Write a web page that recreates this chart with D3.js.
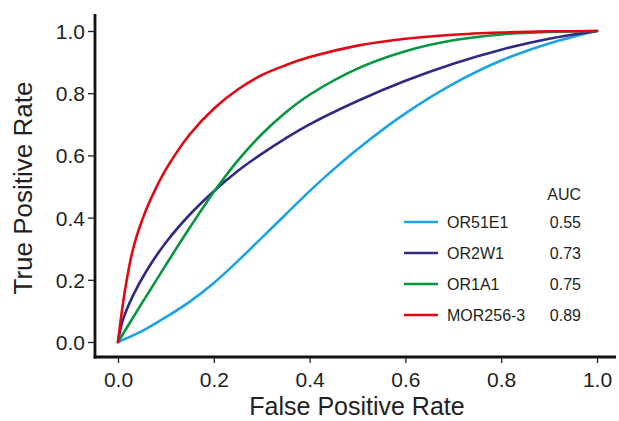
<!DOCTYPE html>
<html>
<head>
<meta charset="utf-8">
<script src="https://cdn.jsdelivr.net/npm/d3@7"></script>
<style>
  html, body { margin: 0; padding: 0; background: #fff; }
  svg { display: block; font-family: "Liberation Sans", Arial, Helvetica, sans-serif; }
</style>
</head>
<body>
<svg id="chart" width="619" height="421"></svg>
<script>
// ---- data ----
const seriesNames = ["OR51E1", "OR2W1", "OR1A1", "MOR256-3"];
const aucValues = ["0.55", "0.73", "0.75", "0.89"];
const seriesColors = ["#1ba3e3", "#2f2a83", "#05963f", "#e30613"];

const fprOR51E1 = [0, 0.05, 0.1, 0.15, 0.2, 0.25, 0.3, 0.35, 0.4, 0.45, 0.5, 0.6, 0.7, 0.8, 0.9, 1];
const tprOR51E1 = [0, 0.035, 0.08, 0.13, 0.19, 0.26, 0.335, 0.41, 0.485, 0.555, 0.62, 0.735, 0.83, 0.905, 0.96, 1];

const fprOR2W1 = [0, 0.01, 0.03, 0.06, 0.1, 0.15, 0.2, 0.25, 0.3, 0.35, 0.4, 0.5, 0.6, 0.7, 0.8, 0.9, 1];
const tprOR2W1 = [0, 0.07, 0.145, 0.23, 0.32, 0.41, 0.485, 0.55, 0.605, 0.655, 0.70, 0.775, 0.84, 0.895, 0.94, 0.975, 1];

const fprOR1A1 = [0, 0.05, 0.1, 0.15, 0.2, 0.25, 0.3, 0.35, 0.4, 0.5, 0.6, 0.7, 0.8, 0.9, 1];
const tprOR1A1 = [0, 0.125, 0.248, 0.368, 0.482, 0.583, 0.668, 0.738, 0.795, 0.879, 0.935, 0.97, 0.989, 0.997, 1];

const fprMOR = [0, 0.01, 0.02, 0.03, 0.04, 0.05, 0.06, 0.08, 0.1, 0.15, 0.2, 0.25, 0.3, 0.35, 0.4, 0.5, 0.6, 0.7, 0.8, 0.9, 1];
const tprMOR = [0, 0.12, 0.215, 0.29, 0.345, 0.39, 0.43, 0.497, 0.555, 0.668, 0.75, 0.812, 0.858, 0.89, 0.916, 0.953, 0.975, 0.988, 0.995, 0.999, 1];

const xTicks = [0, 0.2, 0.4, 0.6, 0.8, 1.0];
const yTicks = [0, 0.2, 0.4, 0.6, 0.8, 1.0];

const xTitle = "False Positive Rate";
const yTitle = "True Positive Rate";
const legendHeader = "AUC";

// ---- build ----
const fprs = [fprOR51E1, fprOR2W1, fprOR1A1, fprMOR];
const tprs = [tprOR51E1, tprOR2W1, tprOR1A1, tprMOR];
const series = seriesNames.map((n, i) => ({
  name: n, auc: aucValues[i], color: seriesColors[i],
  pts: fprs[i].map((f, j) => [f, tprs[i][j]])
}));

const svg = d3.select("#chart");
const textColor = "#231f20";

const x = d3.scaleLinear().domain([0, 1]).range([118, 597]);
const y = d3.scaleLinear().domain([0, 1]).range([342, 31]);

const spineLeftX = 95, spineBottomY = 357, spineTop = 14, spineRight = 616;

// axes (ticks + labels)
const gx = svg.append("g").attr("transform", `translate(0,${spineBottomY})`)
  .call(d3.axisBottom(x).tickValues(xTicks).tickFormat(d3.format(".1f")).tickSize(6).tickSizeOuter(0).tickPadding(9));
gx.select(".domain").remove();
gx.selectAll("line").attr("stroke", textColor).attr("stroke-width", 1.3);
gx.selectAll("text").attr("font-size", 21).attr("fill", textColor).attr("font-family", "Liberation Sans, Arial, sans-serif");

const gy = svg.append("g").attr("transform", `translate(${spineLeftX},0)`)
  .call(d3.axisLeft(y).tickValues(yTicks).tickFormat(d3.format(".1f")).tickSize(7).tickSizeOuter(0).tickPadding(3));
gy.select(".domain").remove();
gy.selectAll("line").attr("stroke", textColor).attr("stroke-width", 1.3);
gy.selectAll("text").attr("font-size", 21).attr("fill", textColor).attr("font-family", "Liberation Sans, Arial, sans-serif").attr("dy", "0.36em");

// spines
svg.append("line").attr("x1", spineLeftX).attr("x2", spineLeftX).attr("y1", spineTop).attr("y2", spineBottomY + 1.4)
  .attr("stroke", "#111").attr("stroke-width", 2.8);
svg.append("line").attr("x1", spineLeftX - 1.4).attr("x2", spineRight).attr("y1", spineBottomY).attr("y2", spineBottomY)
  .attr("stroke", "#111").attr("stroke-width", 2.8);

// curves
const line = d3.line().x(d => x(d[0])).y(d => y(d[1])).curve(d3.curveCatmullRom.alpha(0.5));
svg.append("g").selectAll("path").data(series).join("path")
  .attr("d", d => line(d.pts))
  .attr("fill", "none")
  .attr("stroke", d => d.color)
  .attr("stroke-width", 2.6)
  .attr("stroke-linecap", "round");

// axis titles
svg.append("text").attr("x", 357).attr("y", 415).attr("text-anchor", "middle")
  .attr("font-size", 25).attr("fill", textColor).text(xTitle);
svg.append("text").attr("transform", "translate(32,188) rotate(-90)").attr("text-anchor", "middle")
  .attr("font-size", 26).attr("fill", textColor).text(yTitle);

// legend
const leg = svg.append("g");
leg.append("text").attr("x", 581).attr("y", 200).attr("text-anchor", "end")
  .attr("font-size", 16).attr("fill", textColor).text(legendHeader);
const rows = leg.selectAll("g.row").data(series).join("g").attr("class", "row")
  .attr("transform", (d, i) => `translate(0,${222 + i * 31})`);
rows.append("line").attr("x1", 404).attr("x2", 438).attr("y1", 0).attr("y2", 0)
  .attr("stroke", d => d.color).attr("stroke-width", 2.6);
rows.append("text").attr("x", 447).attr("y", 6).attr("font-size", 16).attr("fill", textColor).text(d => d.name);
rows.append("text").attr("x", 581).attr("y", 6).attr("text-anchor", "end").attr("font-size", 16).attr("fill", textColor).text(d => d.auc);
</script>
</body>
</html>
